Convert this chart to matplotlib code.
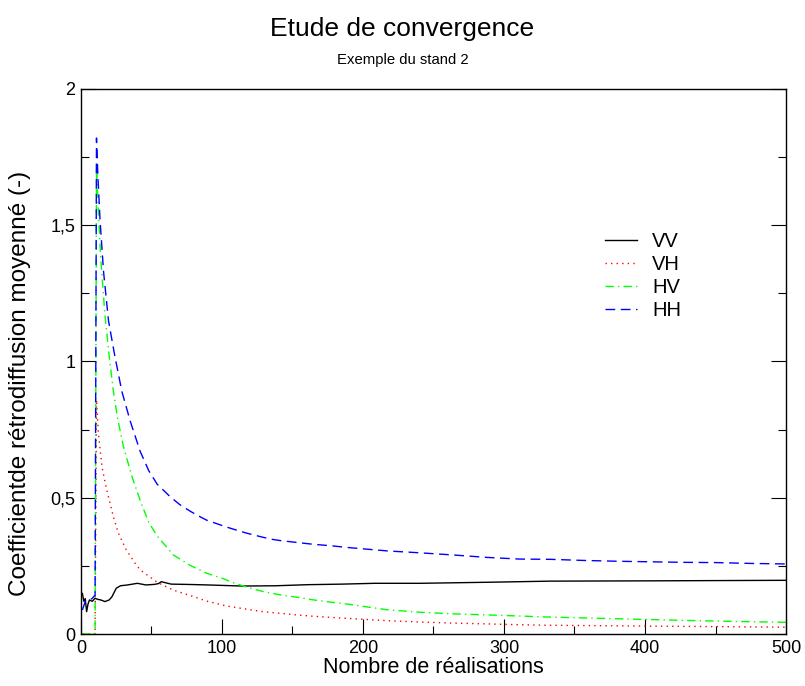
import matplotlib
matplotlib.use("Agg")
import matplotlib.pyplot as plt
from matplotlib.ticker import MultipleLocator, FuncFormatter

plt.rcParams['font.family'] = ['Liberation Sans', 'DejaVu Sans']

# VV : coefficient moyen, polarisation VV
vv_x = [1, 2, 3, 4, 5, 6, 8, 10, 12, 14, 17, 20, 22, 25, 28, 33, 40, 46, 52, 55,
        57, 60, 64, 75, 90, 114, 138, 161, 185, 208, 240, 290, 333, 400, 450, 500]
vv_y = [0.149, 0.12, 0.13, 0.082, 0.11, 0.125, 0.12, 0.131, 0.127, 0.125, 0.119,
        0.125, 0.137, 0.168, 0.177, 0.18, 0.186, 0.18, 0.182, 0.185, 0.192, 0.188,
        0.183, 0.182, 0.18, 0.176, 0.177, 0.181, 0.183, 0.186, 0.186, 0.19, 0.194,
        0.195, 0.196, 0.197]

# VH
vh_x = [1, 10, 11, 12.3, 13.5, 15, 18.2, 23, 26.5, 32, 38.3, 42, 54, 65.5, 77, 89,
        103, 117.5, 129, 141, 153, 165, 177, 190, 217, 240, 264, 288, 311, 333,
        403, 500]
vh_y = [0, 0, 0.86, 0.74, 0.68, 0.61, 0.53, 0.43, 0.37, 0.31, 0.26, 0.235,
        0.19, 0.161, 0.142, 0.121, 0.103, 0.091, 0.082, 0.076, 0.07, 0.065, 0.061,
        0.057, 0.049, 0.044, 0.040, 0.037, 0.034, 0.032, 0.029, 0.025]

# HV
hv_x = [1, 10, 11, 12.3, 14, 17, 20, 23, 26, 30, 36, 42, 48, 54, 65.5, 77, 89,
        101, 106, 117.5, 129, 141, 153, 165, 177, 190, 217, 240, 264, 288, 311,
        333, 380, 427, 475, 500]
hv_y = [0, 0, 1.72, 1.55, 1.38, 1.17, 1.02, 0.89, 0.79, 0.69, 0.58, 0.49, 0.41,
        0.36, 0.29, 0.253, 0.223, 0.203, 0.192, 0.172, 0.156, 0.144, 0.135,
        0.125, 0.117, 0.109, 0.089, 0.080, 0.074, 0.070, 0.066, 0.062, 0.056,
        0.050, 0.045, 0.043]

# HH
hh_x = [1, 3, 5, 8, 10, 11, 12, 13.5, 16, 19.5, 24, 29, 35, 42, 48, 54, 63, 70, 77,
        82, 89, 99, 106, 117.5, 129, 136, 141, 153, 165, 177, 190, 217, 240, 264,
        288, 311, 333, 356, 380, 403, 427, 451, 475, 500]
hh_y = [0.088, 0.119, 0.12, 0.131, 0.143, 1.82, 1.68, 1.52, 1.33, 1.15, 1.02, 0.89,
        0.78, 0.67, 0.60, 0.55, 0.505, 0.475, 0.452, 0.437, 0.418, 0.40, 0.388,
        0.37, 0.355, 0.347, 0.343, 0.336, 0.329, 0.324, 0.317, 0.305, 0.298, 0.29,
        0.281, 0.275, 0.274, 0.27, 0.267, 0.265, 0.263, 0.262, 0.259, 0.257]

fig = plt.figure(figsize=(8.05, 6.86), dpi=100)
ax = fig.add_axes([0.1006, 0.0758, 0.8758, 0.7945])

ax.plot(vv_x, vv_y, color='black', lw=1.0, label='VV')
ax.plot(vh_x, vh_y, color='red', lw=1.0, ls=(0, (1, 3)), label='VH')
ax.plot(hv_x, hv_y, color='#00ff00', lw=1.0, ls=(0, (6, 3, 1, 3)), label='HV')
ax.plot(hh_x, hh_y, color='blue', lw=1.0, ls=(0, (7, 4)), label='HH')

ax.set_xlim(0, 500)
ax.set_ylim(0, 2)
ax.xaxis.set_major_locator(MultipleLocator(100))
ax.xaxis.set_minor_locator(MultipleLocator(50))
ax.yaxis.set_major_locator(MultipleLocator(0.5))
ax.yaxis.set_minor_locator(MultipleLocator(0.25))
ax.yaxis.set_major_formatter(FuncFormatter(lambda v, p: ('%g' % v).replace('.', ',')))
ax.tick_params(which='both', direction='in', right=True, top=False, width=0.8,
               labelsize=13, pad=4)
ax.tick_params(which='major', length=11)
ax.tick_params(which='minor', length=5.5)
for s in ax.spines.values():
    s.set_linewidth(1.0)

ax.set_xlabel('Nombre de réalisations', fontsize=15.5, labelpad=0)
ax.set_ylabel('Coefficientde rétrodiffusion moyenné (-)', fontsize=17.5)
ax.yaxis.set_label_coords(-0.071, 0.46)

fig.text(0.5, 0.958, 'Etude de convergence', ha='center', va='center', fontsize=19)
fig.text(0.5, 0.912, 'Exemple du stand 2', ha='center', va='center', fontsize=10.7)

ax.legend(loc='upper left', bbox_to_anchor=(0.717, 0.771), frameon=False,
          fontsize=14.5, handlelength=1.6, handletextpad=0.75, labelspacing=0.2)

fig.savefig('out.png', dpi=100)
